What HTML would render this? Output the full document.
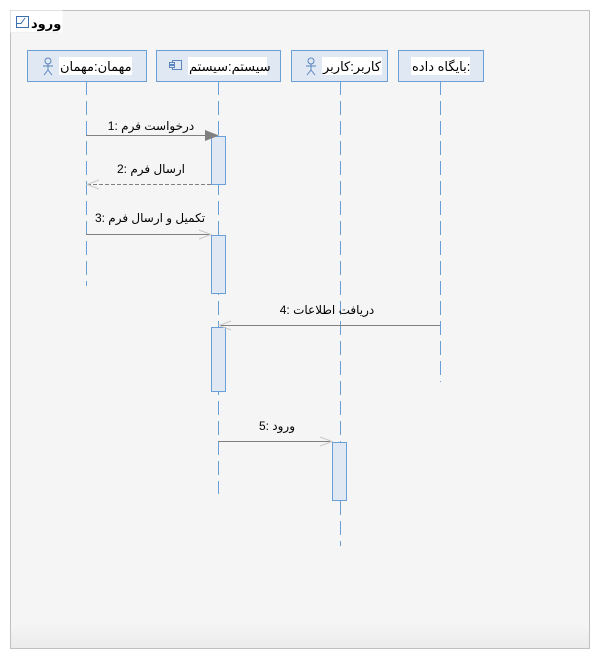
<!DOCTYPE html>
<html><head><meta charset="utf-8"><style>
html,body{margin:0;padding:0;background:#fff;}
svg{display:block;font-family:"Liberation Sans","DejaVu Sans","Noto Sans CJK SC",sans-serif;}
</style></head><body>
<svg width="599" height="659" viewBox="0 0 599 659" xmlns="http://www.w3.org/2000/svg">
<defs><linearGradient id="bg" x1="0" y1="0" x2="0" y2="1"><stop offset="0.96" stop-color="#f5f5f5"/><stop offset="1" stop-color="#ebebeb"/></linearGradient></defs>
<rect x="10.5" y="10.5" width="579" height="638" fill="url(#bg)" stroke="#c0c0c0"/>
<path d="M10.5 32.5 H58 L62 28 V10.5" fill="#fff" stroke="#e0e0e0"/>
<rect x="10.5" y="10.5" width="52" height="22" fill="#fff"/>
<rect x="16.5" y="16.5" width="12" height="11" fill="none" stroke="#3a6fb0"/>
<path d="M16.5 23.5 H21 L25 18" fill="none" stroke="#3a6fb0"/>
<text x="31" y="28" font-size="13" font-weight="bold" fill="#000">ورود</text>

<g stroke="#6a9fd8" stroke-dasharray="14,6" fill="none">
<line x1="86.5" y1="81" x2="86.5" y2="286"/>
<line x1="218.5" y1="81" x2="218.5" y2="494"/>
<line x1="340.5" y1="81" x2="340.5" y2="546"/>
<line x1="440.5" y1="81" x2="440.5" y2="382"/>
</g>

<g fill="#dfe8f3" stroke="#6a9fd8">
<rect x="27.5" y="50.5" width="119" height="31"/>
<rect x="156.5" y="50.5" width="124" height="31"/>
<rect x="291.5" y="50.5" width="96" height="31"/>
<rect x="398.5" y="50.5" width="85" height="31"/>
</g>
<g fill="#fff"><rect x="59" y="57" width="73" height="18"/><rect x="188" y="57" width="79" height="18"/><rect x="322" y="57" width="60" height="18"/><rect x="411" y="57" width="59" height="18"/></g>
<g font-size="13" fill="#000">
<text x="60" y="71">مهمان:مهمان</text>
<text x="189" y="71">سیستم:سیستم</text>
<text x="323" y="71">کاربر:کاربر</text>
<text x="412" y="71">بایگاه داده:</text>
</g>
<g stroke="#5a85bd" fill="none">
<circle cx="48" cy="61" r="3"/><path d="M48 64 V70 M43 66 H53 M44 75 L48 70 L52 75"/>
<circle cx="311" cy="61" r="3"/><path d="M311 64 V70 M306 66 H316 M307 75 L311 70 L315 75"/>
<rect x="172.5" y="60.5" width="9" height="9" fill="#dfe8f3"/><rect x="169.5" y="62.5" width="5" height="2" fill="#dfe8f3"/><rect x="169.5" y="65.5" width="5" height="2" fill="#dfe8f3"/>
</g>

<g fill="#dfe8f3" stroke="#6a9fd8">
<rect x="211.5" y="136.5" width="14" height="48"/>
<rect x="211.5" y="235.5" width="14" height="58"/>
<rect x="211.5" y="327.5" width="14" height="64"/>
<rect x="332.5" y="442.5" width="14" height="58"/>
</g>

<g stroke="#808080" fill="none">
<line x1="86" y1="135.5" x2="205" y2="135.5"/>
<line x1="211" y1="184.5" x2="87" y2="184.5" stroke-dasharray="4,2"/>
<line x1="86" y1="234.5" x2="211" y2="234.5"/>
<line x1="440" y1="325.5" x2="219" y2="325.5"/>
<line x1="218" y1="441.5" x2="332" y2="441.5"/>
</g>
<path d="M205 130 L219 135.5 L205 141 Z" fill="#808080"/>
<g stroke="#c8c8c8" fill="none">
<path d="M99 180 L87 184.5 L99 189"/>
<path d="M199 230 L211 234.5 L199 239"/>
<path d="M231 321 L219 325.5 L231 330"/>
<path d="M320 437 L332 441.5 L320 446"/>
</g>
<g font-size="12" fill="#000" text-anchor="middle">
<text x="151" y="130">1: درخواست فرم</text>
<text x="151" y="173">2: ارسال فرم</text>
<text x="150" y="222">3: تکمیل و ارسال فرم</text>
<text x="327" y="314">4: دریافت اطلاعات</text>
<text x="277" y="430">5: ورود</text>
</g>
</svg>
</body></html>
